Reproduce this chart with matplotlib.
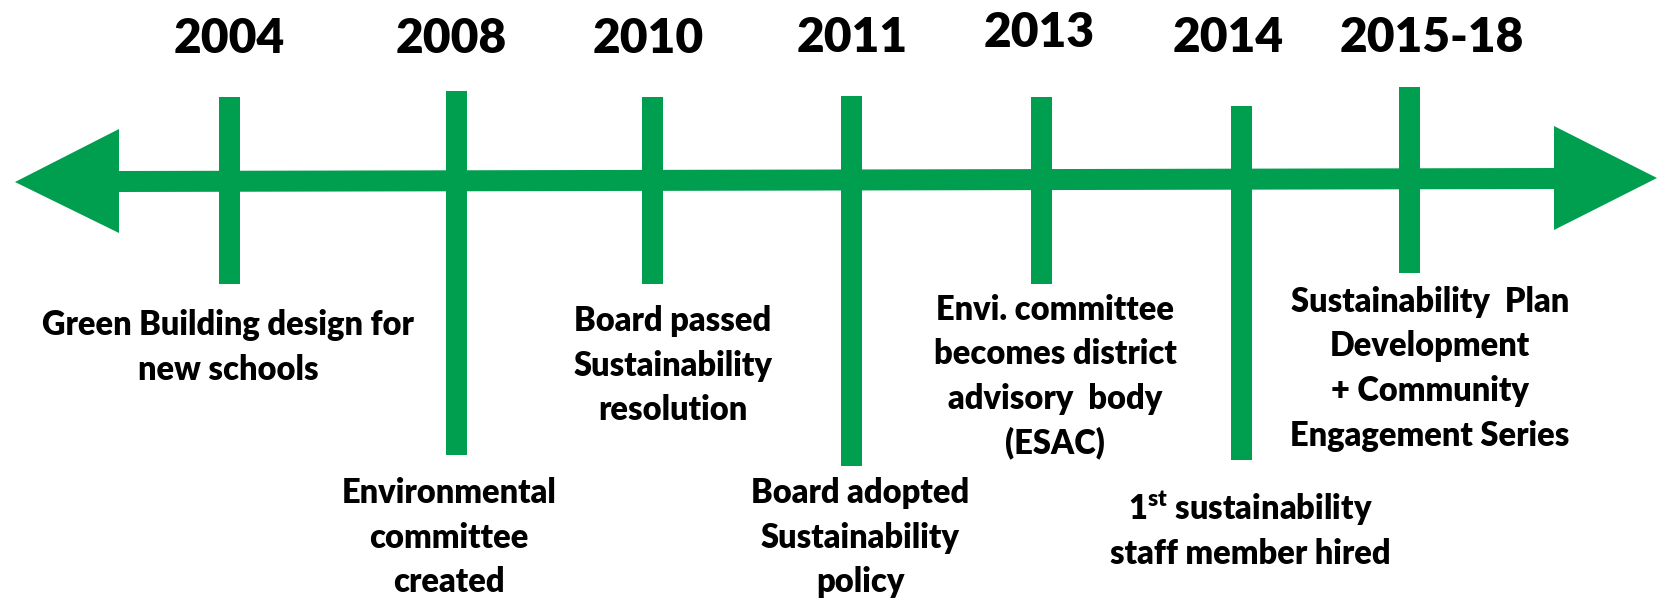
import matplotlib
matplotlib.use("Agg")
import matplotlib.pyplot as plt
from matplotlib.patches import Polygon

# ---- data ----
years = ["2004", "2008", "2010", "2011", "2013", "2014", "2015-18"]
event_x = [229, 456, 652, 851, 1041, 1241, 1409]          # horizontal position of each event
tick_top = [97, 91, 97, 96, 97, 106, 87]                  # upper end of each marker
tick_bottom = [284, 455, 284, 466, 284, 460, 273]         # lower end of each marker
year_label_x = [229, 451, 648, 852, 1039, 1228, 1432]
year_label_baseline = [53, 53, 53, 52, 47, 52, 52]
descriptions = [
    "Green Building design for\nnew schools",
    "Environmental\ncommittee\ncreated",
    "Board passed\nSustainability\nresolution",
    "Board adopted\nSustainability\npolicy",
    "Envi. committee\nbecomes district\nadvisory  body\n(ESAC)",
    r"1$^{\mathrm{st}}$ sustainability" + "\nstaff member hired",
    "Sustainability  Plan\nDevelopment\n+ Community\nEngagement Series",
]
desc_x = [228, 449, 673, 860, 1055, 1250, 1430]
desc_first_baseline = [335, 503, 331, 503, 320, 520, 312]

GREEN = "#009E4F"
LINE_GAP = 44.5

plt.rcParams["mathtext.fontset"] = "custom"
plt.rcParams["mathtext.rm"] = "Lato:heavy"
plt.rcParams["mathtext.bf"] = "Lato:heavy"

W, H = 1671, 606
fig = plt.figure(figsize=(W / 100, H / 100), dpi=100)
ax = fig.add_axes([0, 0, 1, 1])
ax.set_xlim(0, W)
ax.set_ylim(H, 0)
ax.axis("off")

# main horizontal line
ax.add_patch(Polygon([(115, 171), (1558, 168), (1558, 189), (115, 192)],
                     closed=True, color=GREEN, lw=0))
# arrow heads
ax.add_patch(Polygon([(15, 182), (119, 129), (119, 233)], closed=True, color=GREEN, lw=0))
ax.add_patch(Polygon([(1657, 178), (1554, 126), (1554, 230)], closed=True, color=GREEN, lw=0))

# event markers
heights = [b - t for t, b in zip(tick_top, tick_bottom)]
ax.bar(event_x, heights, bottom=tick_top, width=21, color=GREEN, linewidth=0)

# year labels
for lab, x, yb in zip(years, year_label_x, year_label_baseline):
    ax.text(x, yb, lab, ha="center", va="baseline", fontsize=34.5,
            fontweight="heavy", family="Lato", color="black")

# descriptions
for txt, x, y0 in zip(descriptions, desc_x, desc_first_baseline):
    for i, line in enumerate(txt.split("\n")):
        ax.text(x, y0 + i * LINE_GAP, line, ha="center", va="baseline",
                fontsize=23.5, fontweight="heavy", family="Lato", color="black")

fig.savefig("out.png", dpi=100)
